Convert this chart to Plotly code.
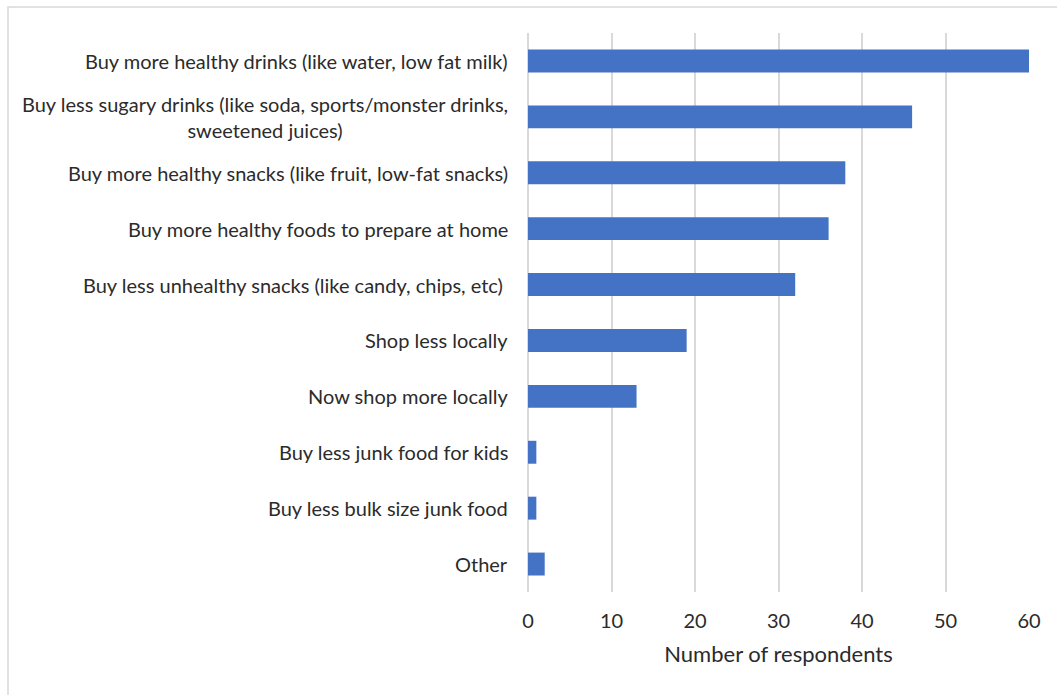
import plotly.graph_objects as go

categories = [
    "Buy more healthy drinks (like water, low fat milk)",
    "Buy less sugary drinks (like soda, sports/monster drinks,<br>sweetened juices)",
    "Buy more healthy snacks (like fruit, low-fat snacks)",
    "Buy more healthy foods to prepare at home",
    "Buy less unhealthy snacks (like candy, chips, etc) ",
    "Shop less locally",
    "Now shop more locally",
    "Buy less junk food for kids",
    "Buy less bulk size junk food",
    "Other",
]
values = [60, 46, 38, 36, 32, 19, 13, 1, 1, 2]
x_ticks = [0, 10, 20, 30, 40, 50, 60]
x_title = "Number of respondents"

W, H = 1057, 695
L, R, T, B = 528, 28, 33, 103
pw, ph = W - L - R, H - T - B

FONT = "Lato, 'Open Sans', sans-serif"
TXT = "#2b2b2b"
GRID = "#d9d9d9"

fig = go.Figure(go.Bar(
    x=values, y=list(range(len(categories))), orientation="h",
    marker=dict(color="#4472C4", line=dict(width=0)),
    width=0.41, hoverinfo="x",
))

annotations = []
for i, c in enumerate(categories):
    annotations.append(dict(
        x=0, xref="paper", y=i, yref="y", text=c, showarrow=False,
        xanchor="right", yanchor="middle", align="center", xshift=-18,
        font=dict(family=FONT, size=20, color=TXT),
    ))

def px_to_paper_x(px):
    return (px - L) / pw

def px_to_paper_y(py):
    return (H - B - py) / ph

shapes = [dict(
    type="rect", xref="paper", yref="paper",
    x0=px_to_paper_x(8), x1=px_to_paper_x(1070),
    y0=px_to_paper_y(710), y1=px_to_paper_y(7),
    line=dict(color=GRID, width=1.5), fillcolor="rgba(0,0,0,0)", layer="below",
)]

fig.update_layout(
    width=W, height=H,
    margin=dict(l=L, r=R, t=T, b=B, pad=0),
    plot_bgcolor="white", paper_bgcolor="white",
    showlegend=False,
    annotations=annotations, shapes=shapes,
    xaxis=dict(
        range=[0, 60], tickvals=x_ticks, showgrid=True, gridcolor=GRID, gridwidth=1.5,
        zeroline=True, zerolinecolor=GRID, zerolinewidth=1.5, showline=False,
        ticks="", ticklabelstandoff=15,
        tickfont=dict(family=FONT, size=20, color=TXT),
        title=dict(text=x_title, font=dict(family=FONT, size=22, color=TXT), standoff=15),
    ),
    yaxis=dict(
        range=[len(categories) - 0.5, -0.5], showticklabels=False, showgrid=False,
        zeroline=False, showline=False, ticks="",
    ),
)

fig.write_html("out.html")
